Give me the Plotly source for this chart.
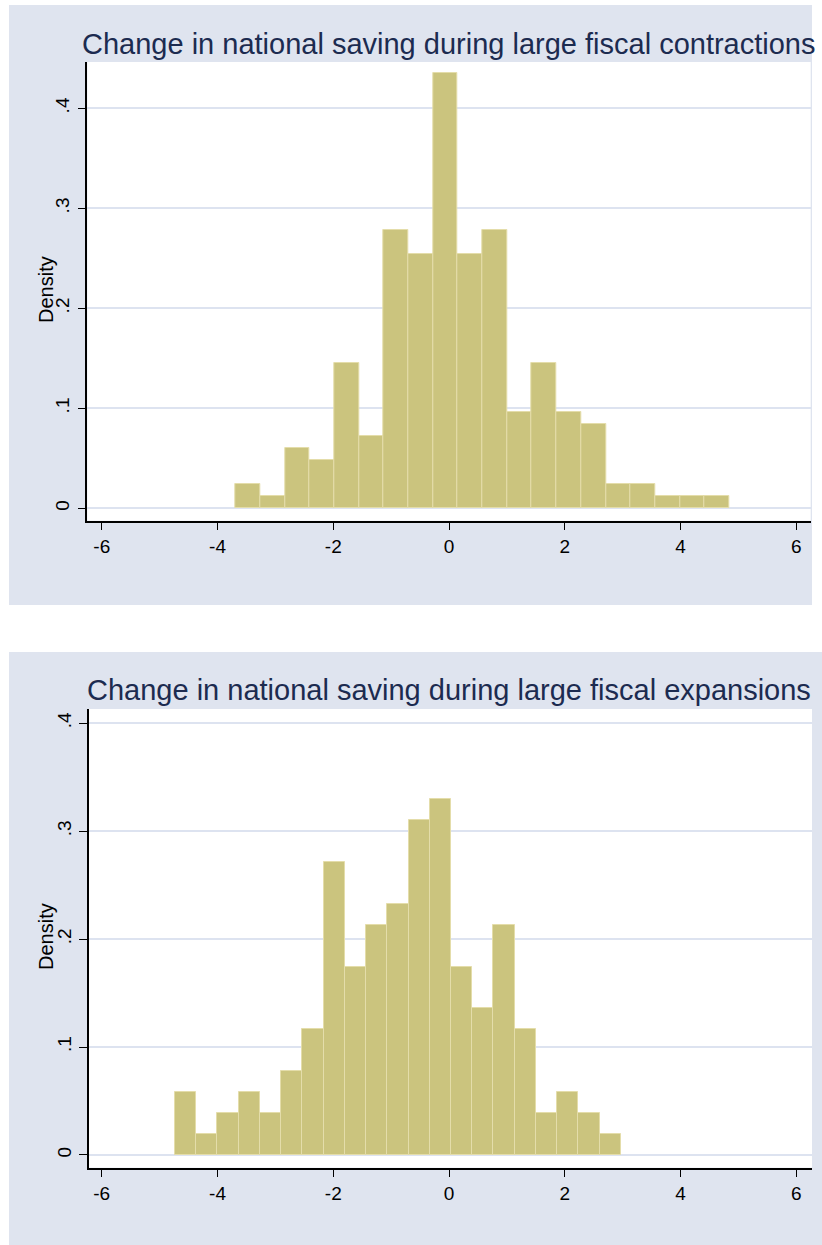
import plotly.graph_objects as go

# ---------------- data ----------------
contraction_bin_start = -3.69
contraction_bin_width = 0.4267
contraction_density = [0.0242, 0.0121, 0.0605, 0.0484, 0.1452, 0.0726, 0.2783, 0.2541,
                       0.4356, 0.2541, 0.2783, 0.0968, 0.1452, 0.0968, 0.0847, 0.0242,
                       0.0242, 0.0121, 0.0121, 0.0121]

expansion_bin_start = -4.736
expansion_bin_width = 0.3669
expansion_density = [0.0582, 0.0194, 0.0388, 0.0582, 0.0388, 0.0776, 0.1164, 0.2716,
                     0.1746, 0.2134, 0.2328, 0.3104, 0.3298, 0.1746, 0.1358, 0.2134,
                     0.1164, 0.0388, 0.0582, 0.0388, 0.0194]

x_tick_vals = [-6, -4, -2, 0, 2, 4, 6]
x_tick_text = ["-6", "-4", "-2", "0", "2", "4", "6"]
y_tick_vals = [0, 0.1, 0.2, 0.3, 0.4]
y_tick_text = ["0", ".1", ".2", ".3", ".4"]

title_top = "Change in national saving during large fiscal contractions"
title_bottom = "Change in national saving during large fiscal expansions"
y_title = "Density"

# ---------------- styling ----------------
W, H = 822, 1245
PANEL = "#dfe4ef"
BAR = "#cbc47e"
BAR_LINE = "#e4ddaa"
GRID = "#dde3f0"
TITLE_C = "#1c2b50"
FONT = "Liberation Sans, Arial, sans-serif"


def px_x(p):
    return p / W


def px_y(p):
    return 1 - p / H


def centers(start, width, n):
    return [start + width * (i + 0.5) for i in range(n)]


fig = go.Figure()

fig.add_trace(go.Bar(
    x=centers(contraction_bin_start, contraction_bin_width, len(contraction_density)),
    y=contraction_density, width=contraction_bin_width,
    marker=dict(color=BAR, line=dict(color=BAR_LINE, width=1)),
    xaxis="x", yaxis="y", showlegend=False, hoverinfo="skip"))

fig.add_trace(go.Bar(
    x=centers(expansion_bin_start, expansion_bin_width, len(expansion_density)),
    y=expansion_density, width=expansion_bin_width,
    marker=dict(color=BAR, line=dict(color=BAR_LINE, width=1)),
    xaxis="x2", yaxis="y2", showlegend=False, hoverinfo="skip"))

xaxis_common = dict(
    tickvals=x_tick_vals, ticktext=x_tick_text, ticks="outside", ticklen=8,
    tickwidth=1.3, tickcolor="black", showline=True, linecolor="black", linewidth=1.5,
    showgrid=False, zeroline=False, tickfont=dict(family=FONT, size=19, color="black"),
    ticklabelstandoff=0, fixedrange=True)
yaxis_common = dict(
    tickvals=y_tick_vals, ticktext=y_tick_text, ticks="outside", ticklen=8,
    tickwidth=1.3, tickcolor="black", showline=True, linecolor="black", linewidth=1.5,
    showgrid=True, gridcolor=GRID, gridwidth=1.5, zeroline=False, tickangle=-90,
    tickfont=dict(family=FONT, size=19, color="black"), ticklabelstandoff=1, fixedrange=True)

fig.update_layout(
    width=W, height=H, margin=dict(l=0, r=0, t=0, b=0),
    paper_bgcolor="white", plot_bgcolor="white", bargap=0,
    xaxis=dict(domain=[px_x(87.3), px_x(810.7)], range=[-6.25, 6.25], anchor="y", **xaxis_common),
    yaxis=dict(domain=[px_y(520.7), px_y(62)], range=[-0.0124, 0.4463], anchor="x", **yaxis_common),
    xaxis2=dict(domain=[px_x(89), px_x(812)], range=[-6.22, 6.27], anchor="y2", **xaxis_common),
    yaxis2=dict(domain=[px_y(1167.7), px_y(709)], range=[-0.0118, 0.4132], anchor="x2", **yaxis_common),
)

shapes = [
    dict(type="rect", xref="paper", yref="paper", x0=px_x(9), x1=px_x(812), y0=px_y(605), y1=px_y(5),
         fillcolor=PANEL, line=dict(width=0), layer="below"),
    dict(type="rect", xref="paper", yref="paper", x0=px_x(9), x1=px_x(822), y0=px_y(1245), y1=px_y(652),
         fillcolor=PANEL, line=dict(width=0), layer="below"),
    dict(type="rect", xref="paper", yref="paper", x0=px_x(87.3), x1=px_x(810.7), y0=px_y(520.7), y1=px_y(62),
         fillcolor="white", line=dict(width=0), layer="below"),
    dict(type="rect", xref="paper", yref="paper", x0=px_x(89), x1=px_x(812), y0=px_y(1167.7), y1=px_y(709),
         fillcolor="white", line=dict(width=0), layer="below"),
]
fig.update_layout(shapes=shapes)

annotations = [
    dict(text=title_top, xref="paper", yref="paper", x=px_x(449), y=px_y(44), showarrow=False,
         xanchor="center", yanchor="middle", font=dict(family=FONT, size=29, color=TITLE_C)),
    dict(text=title_bottom, xref="paper", yref="paper", x=px_x(449), y=px_y(690), showarrow=False,
         xanchor="center", yanchor="middle", font=dict(family=FONT, size=29, color=TITLE_C)),
    dict(text=y_title, xref="paper", yref="paper", x=px_x(46), y=px_y(290), showarrow=False,
         textangle=-90, xanchor="center", yanchor="middle", font=dict(family=FONT, size=20, color="black")),
    dict(text=y_title, xref="paper", yref="paper", x=px_x(46), y=px_y(937), showarrow=False,
         textangle=-90, xanchor="center", yanchor="middle", font=dict(family=FONT, size=20, color="black")),
]
fig.update_layout(annotations=annotations)

fig.write_html("out.html", config={"displayModeBar": False},
               post_script="document.body.style.margin='0';document.body.style.padding='0';")
